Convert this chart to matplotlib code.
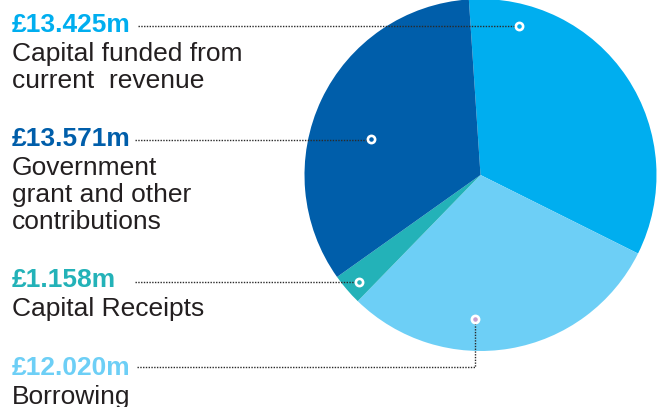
import numpy as np
import matplotlib
matplotlib.use("Agg")
import matplotlib.pyplot as plt

plt.rcParams['font.family'] = ['Liberation Sans', 'DejaVu Sans']

# capital financing sources (£m), in drawing order clockwise from the top
sources = ["Capital funded from\ncurrent  revenue", "Borrowing",
           "Capital Receipts", "Government\ngrant and other\ncontributions"]
amounts = [13.425, 12.020, 1.158, 13.571]
colours = ["#00AEEF", "#6DCFF6", "#23B2B8", "#005EAA"]

W, H = 664, 407
fig = plt.figure(figsize=(W / 100, H / 100), dpi=100)
ax = fig.add_axes([0, 0, 1, 1])

cx, cy, r = 480.5, H - 175, 176
wedges, _ = ax.pie(amounts, colors=colours, startangle=93.8, counterclock=False,
                   center=(cx, cy), radius=r, wedgeprops=dict(linewidth=0))

# where the label dots sit inside each wedge: (fraction along arc, fraction of radius)
anchor = [(0.152, 0.875), (0.61, 0.82), (0.42, 0.92), (0.44, 0.655)]
dot_fill = ["#00AEEF", "#C79FD0", "#23B2B8", "#005EAA"]
# text block baseline of the value line (pixels from top), and leader start x
text_y = [32, 375, 287, 146]
line_x0 = [138, 137, 135, 135]
line_y = [25.5, 367, 282, 140]

for i, w in enumerate(wedges):
    fr, rf = anchor[i]
    ang = np.radians(w.theta2 - fr * (w.theta2 - w.theta1))
    mx, my = cx + rf * r * np.cos(ang), cy + rf * r * np.sin(ang)

    ly = H - line_y[i]
    if abs(my - ly) > 2:
        ax.plot([line_x0[i], mx, mx], [ly, ly, my], color="#2a2a2a",
                lw=1.0, ls=(0, (1, 1)), zorder=3)
    else:
        ax.plot([line_x0[i], mx], [ly, ly], color="#2a2a2a",
                lw=1.0, ls=(0, (1, 1)), zorder=3)
    ax.plot(mx, my, "o", ms=5.2, mfc=dot_fill[i], mec="white", mew=1.9, zorder=4)

    ax.text(12, H - text_y[i], f"£{amounts[i]:.3f}m", color=colours[i],
            fontsize=19, fontweight="bold", va="baseline", ha="left")
    for k, line in enumerate(sources[i].split("\n")):
        ax.text(12, H - (text_y[i] + 29 + 27 * k), line, color="#231F20",
                fontsize=19, va="baseline", ha="left")

ax.set_xlim(0, W)
ax.set_ylim(0, H)
ax.set_aspect("equal")
ax.axis("off")

fig.savefig("out.png", dpi=100, facecolor="white")
